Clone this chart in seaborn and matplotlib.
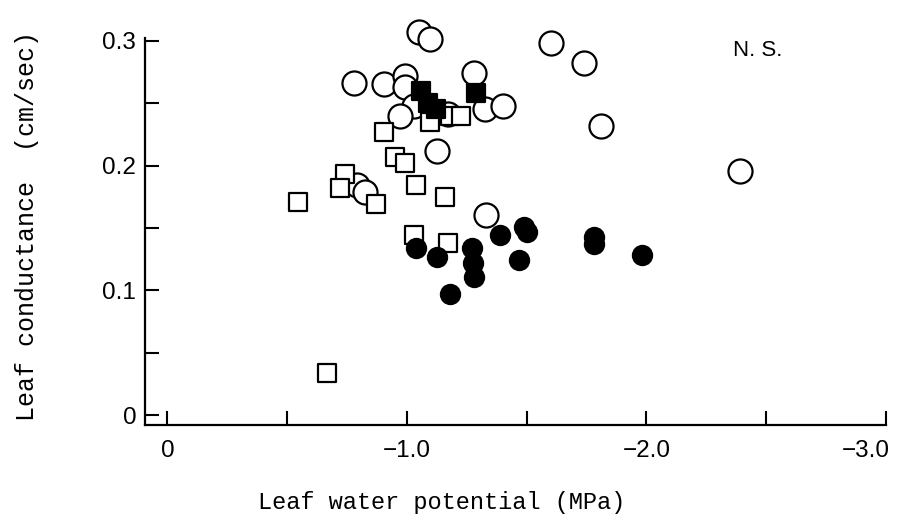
import matplotlib
matplotlib.use("Agg")
import matplotlib.pyplot as plt
import matplotlib.transforms as mtransforms
import seaborn as sns
from matplotlib.ticker import FixedLocator

sns.set_theme(style="ticks")
plt.rcParams['font.family'] = ['Liberation Sans', 'DejaVu Sans']

# Open circles
oc_x = [-1.05, -1.095, -0.78, -0.905, -0.99, -0.99, -1.03, -0.97, -1.28, -1.325,
        -1.40, -1.17, -1.125, -0.79, -0.825, -1.33, -1.60, -1.74, -1.81, -2.39]
oc_y = [0.307, 0.301, 0.266, 0.265, 0.272, 0.263, 0.248, 0.240, 0.274, 0.245,
        0.248, 0.241, 0.212, 0.184, 0.179, 0.160, 0.298, 0.282, 0.232, 0.196]
# Open squares
os_x = [-0.905, -1.095, -1.18, -1.225, -0.95, -0.99, -1.04, -1.16, -0.74, -0.72,
        -0.87, -0.546, -1.03, -1.17, -0.665]
os_y = [0.227, 0.235, 0.240, 0.240, 0.207, 0.202, 0.184, 0.175, 0.193, 0.182,
        0.169, 0.171, 0.144, 0.138, 0.034]
# Filled squares
fs_x = [-1.06, -1.09, -1.12, -1.29]
fs_y = [0.260, 0.250, 0.245, 0.258]
# Filled circles
fc_x = [-1.04, -1.125, -1.27, -1.275, -1.28, -1.18, -1.39, -1.49, -1.50, -1.47,
        -1.78, -1.78, -1.98]
fc_y = [0.134, 0.127, 0.134, 0.122, 0.111, 0.097, 0.144, 0.151, 0.147, 0.124,
        0.143, 0.137, 0.128]

xticks = [0, -1.0, -2.0, -3.0]
xticklabels = ["0", "\u22121.0", "\u22122.0", "\u22123.0"]
yticks = [0, 0.1, 0.2, 0.3]
yticklabels = ["0", "0.1", "0.2", "0.3"]

fig = plt.figure(figsize=(9.04, 5.23), dpi=100)
ax = fig.add_axes([0.160, 0.187, 0.820, 0.740])

lw = 1.6
for xs, ys, mk, sz, fcol, z in [(oc_x, oc_y, 'o', 300, 'white', 3),
                                (os_x, os_y, 's', 165, 'white', 4),
                                (fs_x, fs_y, 's', 165, 'black', 5),
                                (fc_x, fc_y, 'o', 190, 'black', 5)]:
    sns.scatterplot(x=xs, y=ys, marker=mk, s=sz, facecolor=fcol,
                    edgecolor='black', linewidth=lw, ax=ax, zorder=z, clip_on=False)

ax.set_xlim(0.095, -3.0)
ax.set_ylim(-0.008, 0.302)
sns.despine(ax=ax)
for sp in ['left', 'bottom']:
    ax.spines[sp].set_linewidth(1.6)
    ax.spines[sp].set_color('black')

ax.set_xticks(xticks)
ax.set_xticklabels(xticklabels)
ax.xaxis.set_minor_locator(FixedLocator([-0.5, -1.5, -2.5]))
ax.set_yticks(yticks)
ax.set_yticklabels(yticklabels)
ax.yaxis.set_minor_locator(FixedLocator([0.05, 0.15, 0.25]))
ax.tick_params(which='both', direction='in', color='black', width=1.5)
ax.tick_params(which='major', length=10, labelsize=17.5, labelcolor='black')
ax.tick_params(axis='y', which='major', pad=6)
ax.tick_params(axis='x', which='major', pad=11)
ax.tick_params(which='minor', length=10)

# last x tick label sits left of its tick in the reference
last = ax.get_xticklabels()[-1]
last.set_transform(last.get_transform() +
                   mtransforms.ScaledTranslation(-0.2, 0, fig.dpi_scale_trans))

ax.set_xlabel("Leaf water potential (MPa)", family=['Liberation Mono', 'DejaVu Sans'],
              fontsize=17, color='black')
ax.xaxis.set_label_coords(0.40, -0.17)
ax.set_ylabel("Leaf conductance  (cm/sec)", family=['Liberation Mono', 'DejaVu Sans'],
              fontsize=18, color='black')
ax.yaxis.set_label_coords(-0.142, 0.515)
ax.text(-2.36, 0.288, "N. S.", fontsize=16, color='black')

fig.savefig("out.png", dpi=100, facecolor='white')
